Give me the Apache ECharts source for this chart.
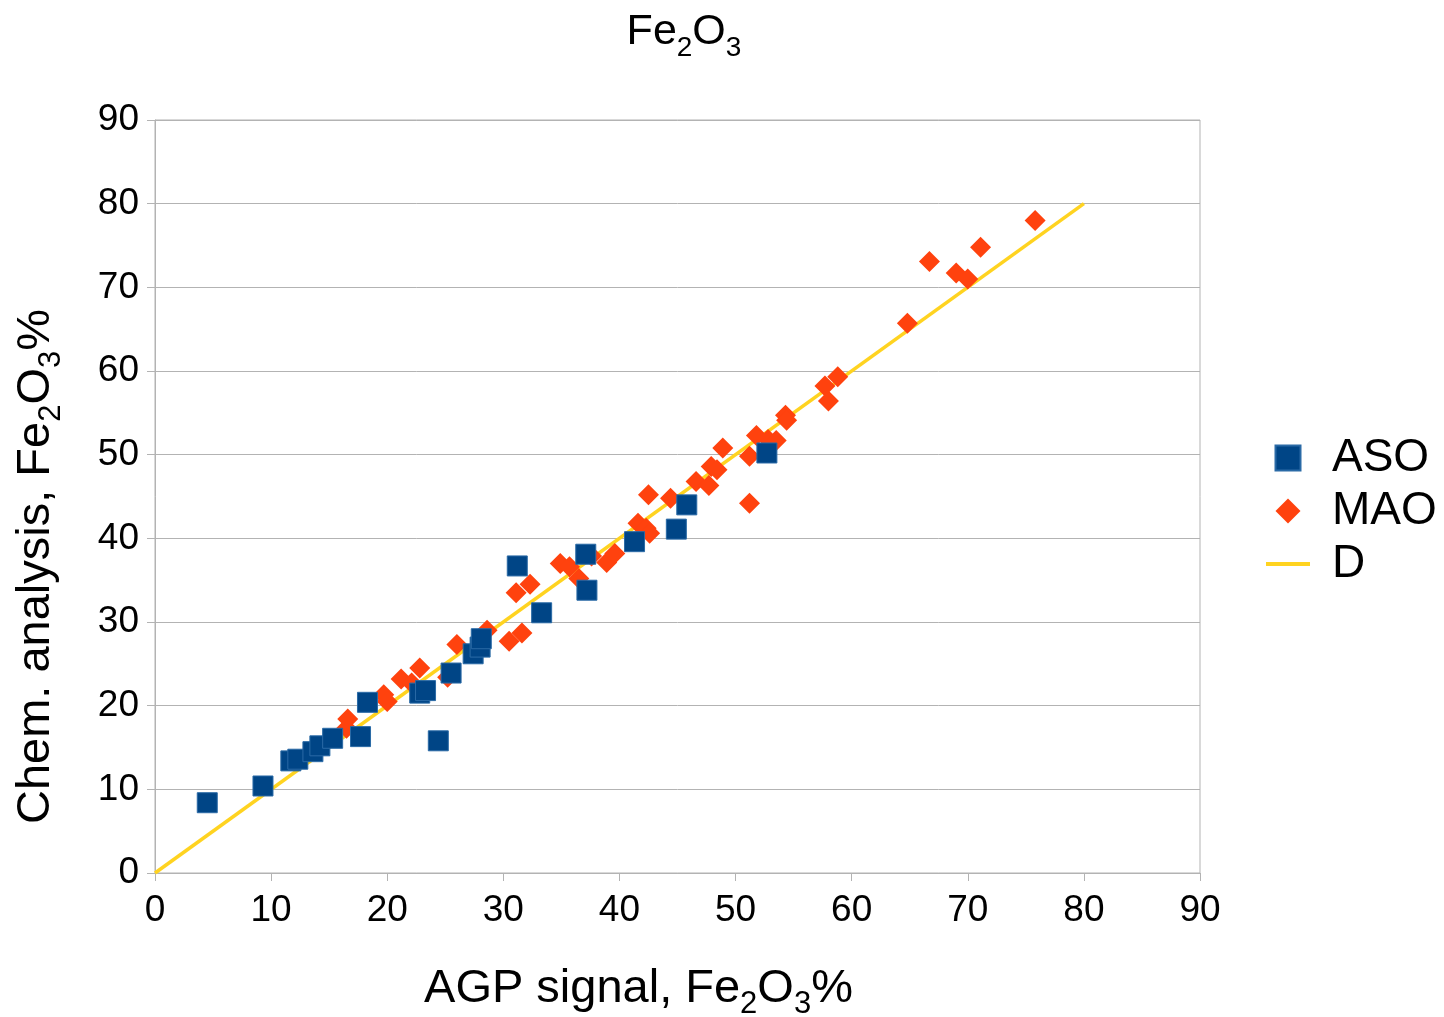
<!DOCTYPE html>
<html lang="en">
<head>
<meta charset="UTF-8">
<script src="https://cdn.jsdelivr.net/npm/echarts@6/dist/echarts.min.js"></script>
<style>
  html, body { margin: 0; padding: 0; background: #fff; }
  #chart { width: 1444px; height: 1017px; }
</style>
</head>
<body>
<div id="chart"></div>
<script>
// ASO points (squares)
var asoX = [4.5, 9.3, 11.7, 12.3, 13.6, 14.2, 15.3, 17.7, 18.3, 22.8, 23.3, 24.4, 25.5, 27.4, 28.0, 28.1, 31.2, 33.3, 37.1, 37.2, 41.3, 44.9, 45.8, 52.7];
var asoY = [8.4, 10.4, 13.4, 13.6, 14.5, 15.2, 16.1, 16.3, 20.4, 21.5, 21.8, 15.8, 23.9, 26.2, 27.0, 28.0, 36.7, 31.1, 38.1, 33.8, 39.6, 41.1, 44.0, 50.2];
// MAO points (diamonds)
var maoX = [16.5, 16.6, 19.7, 20.0, 21.2, 22.1, 22.8, 25.2, 26.0, 28.6, 30.5, 31.6, 31.1, 32.3, 34.9, 35.7, 36.5, 37.6, 38.9, 39.6, 41.6, 42.3, 42.6, 42.5, 44.4, 46.6, 47.7, 47.9, 48.4, 48.9, 51.2, 51.2, 51.8, 52.8, 53.5, 54.3, 54.4, 57.7, 58.0, 58.8, 64.8, 66.7, 69.0, 70.0, 71.1, 75.8];
var maoY = [17.3, 18.4, 21.3, 20.5, 23.2, 22.7, 24.5, 23.4, 27.3, 29.0, 27.7, 28.7, 33.5, 34.5, 37.0, 36.6, 35.2, 37.9, 37.1, 38.2, 41.8, 41.2, 40.6, 45.2, 44.8, 46.8, 46.3, 48.6, 48.2, 50.8, 49.8, 44.2, 52.3, 51.8, 51.7, 54.7, 54.1, 58.2, 56.4, 59.3, 65.7, 73.1, 71.7, 71.0, 74.8, 78.0];
// D line
var lineX = [0, 80];
var lineY = [0, 80];
var axisTicks = [0, 10, 20, 30, 40, 50, 60, 70, 80, 90];

function zip(a, b) {
  var out = [];
  for (var i = 0; i < a.length; i++) out.push([a[i], b[i]]);
  return out;
}

var FONT = '"Liberation Sans", Arial, sans-serif';
// subscript: smaller text pushed down with top padding
var sub = function (size, pad) {
  return { fontSize: size, fontFamily: FONT, fontWeight: 'normal', color: '#000', padding: [pad, 0, 0, 0] };
};
var big = function (size) {
  return { fontSize: size, fontFamily: FONT, fontWeight: 'normal', color: '#000' };
};

var myChart = echarts.init(document.getElementById('chart'));

var axisCommon = {
  type: 'value',
  min: axisTicks[0],
  max: axisTicks[axisTicks.length - 1],
  interval: 10,
  axisLine: { show: true, lineStyle: { color: '#b3b3b3', width: 1 } },
  axisTick: { show: true, length: 8, lineStyle: { color: '#b3b3b3' } },
  splitLine: { show: false },
  axisLabel: { fontSize: 37, fontFamily: FONT, color: '#000', margin: 16 }
};

var option = {
  animation: false,
  backgroundColor: '#fff',
  title: {
    text: '{a|Fe}{s|2}{a|O}{s|3}',
    left: 679,
    top: -3,
    textAlign: 'center',
    textStyle: {
      fontWeight: 'normal',
      rich: { a: big(43), s: sub(28, 32) }
    }
  },
  grid: {
    left: 155,
    right: 244,
    top: 120,
    bottom: 144,
    outerBoundsMode: 'none',
    containLabel: false,
    show: true,
    borderColor: '#b3b3b3',
    borderWidth: 1
  },
  legend: {
    orient: 'vertical',
    left: 1261,
    top: 430,
    itemWidth: 44,
    itemHeight: 25,
    itemGap: 7,
    symbolKeepAspect: true,
    textStyle: { fontSize: 46, fontFamily: FONT, color: '#000', lineHeight: 46, padding: [0, 0, 0, 17] },
    data: [
      { name: 'ASO', icon: 'path://M0,0h10v10h-10z' },
      { name: 'MAO', icon: 'path://M5,0L10,5L5,10L0,5z' },
      { name: 'D', icon: 'path://M0,0h44v4h-44z' }
    ]
  },
  xAxis: Object.assign({}, axisCommon, {
    axisLabel: { fontSize: 37, fontFamily: FONT, color: '#000', margin: 19 },
    name: '{a|AGP signal, Fe}{s|2}{a|O}{s|3}{a|%}',
    nameLocation: 'middle',
    nameGap: 86,
    nameTextStyle: {
      padding: [0, 78, 0, 0],
      rich: { a: big(47), s: sub(31, 30) }
    }
  }),
  yAxis: Object.assign({}, axisCommon, {
    splitLine: { show: true, lineStyle: { color: '#b3b3b3', width: 1 } },
    name: '{a|Chem. analysis, Fe}{s|2}{a|O}{s|3}{a|%}',
    nameLocation: 'middle',
    nameGap: 88,
    nameTextStyle: {
      padding: [0, 140, 0, 0],
      rich: { a: big(47), s: sub(31, 30) }
    }
  }),
  series: [
    {
      name: 'ASO',
      type: 'scatter',
      symbol: 'rect',
      symbolSize: 20,
      z: 4,
      itemStyle: { color: '#004586', borderColor: '#2a6aa6', borderWidth: 1, opacity: 1 },
      data: zip(asoX, asoY)
    },
    {
      name: 'MAO',
      type: 'scatter',
      symbol: 'diamond',
      symbolSize: 21,
      z: 3,
      itemStyle: { color: '#ff420e', opacity: 1 },
      data: zip(maoX, maoY)
    },
    {
      name: 'D',
      type: 'line',
      symbol: 'none',
      z: 2,
      lineStyle: { color: '#ffd320', width: 3.5 },
      itemStyle: { color: '#ffd320' },
      data: zip(lineX, lineY)
    }
  ]
};

myChart.setOption(option);
</script>
</body>
</html>
